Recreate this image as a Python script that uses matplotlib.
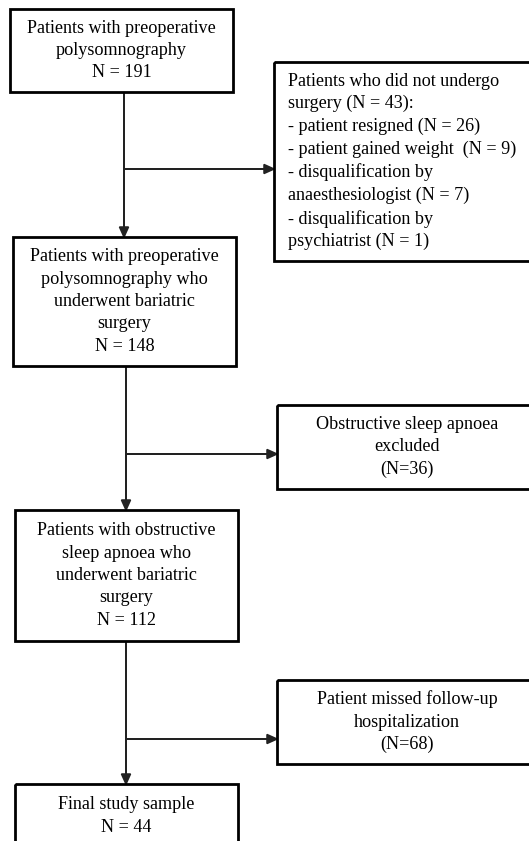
import matplotlib.pyplot as plt
from matplotlib.patches import Rectangle

# flow stages (main column) and exclusions (right column)
STAGE_LABELS = [
    "Patients with preoperative\npolysomnography",
    "Patients with preoperative\npolysomnography who\nunderwent bariatric\nsurgery",
    "Patients with obstructive\nsleep apnoea who\nunderwent bariatric\nsurgery",
    "Final study sample",
]
STAGE_N = [191, 148, 112, 44]

EXCLUDED_TEXT = [
    "Patients who did not undergo\nsurgery (N = 43):\n- patient resigned (N = 26)\n"
    "- patient gained weight  (N = 9)\n- disqualification by\n"
    "anaesthesiologist (N = 7)\n- disqualification by\npsychiatrist (N = 1)",
    "Obstructive sleep apnoea\nexcluded\n(N=36)",
    "Patient missed follow-up\nhospitalization\n(N=68)",
]
EXCLUDED_ALIGN = ["left", "center", "center"]

# layout in pixels (x0, y0, x1, y1), y measured from top
STAGE_BOX = [(10, 9, 233, 92), (13, 237, 236, 366), (15, 510, 238, 641), (15, 784, 238, 848)]
EXCL_BOX = [(274, 62, 545, 261), (277, 405, 537, 489), (277, 680, 537, 764)]
BRANCH_Y = [169, 454, 739]
TRUNK_X = [124, 126, 126]

W, H = 529, 841
FONT = ["Liberation Serif", "DejaVu Serif"]
FS = 13.1
LS = 1.41

fig = plt.figure(figsize=(W / 100, H / 100), dpi=100)
ax = fig.add_axes([0, 0, 1, 1])
ax.set_xlim(0, W)
ax.set_ylim(H, 0)
ax.axis("off")


def box(b):
    x0, y0, x1, y1 = b
    ax.add_patch(Rectangle((x0, y0), x1 - x0, y1 - y0, fill=False,
                           edgecolor="black", linewidth=2.0, zorder=3))


for lab, n, b in zip(STAGE_LABELS, STAGE_N, STAGE_BOX):
    box(b)
    x0, y0, x1, y1 = b
    ax.text((x0 + x1) / 2, (y0 + y1) / 2, f"{lab}\nN = {n}", ha="center", va="center",
            multialignment="center", fontsize=FS, family=FONT, linespacing=LS)

for txt, al, b in zip(EXCLUDED_TEXT, EXCLUDED_ALIGN, EXCL_BOX):
    box(b)
    x0, y0, x1, y1 = b
    if al == "left":
        ax.text(x0 + 14, (y0 + y1) / 2, txt, ha="left", va="center",
                fontsize=FS, family=FONT, linespacing=LS)
    else:
        ax.text((x0 + x1) / 2, (y0 + y1) / 2, txt, ha="center", va="center",
                multialignment="center", fontsize=FS, family=FONT, linespacing=LS)

arrow_kw = dict(width=0, head_width=9, head_length=10, length_includes_head=True,
                color="#222222", linewidth=1.1, zorder=2)
for i in range(3):
    tx = TRUNK_X[i]
    top = STAGE_BOX[i][3]
    bottom = STAGE_BOX[i + 1][1]
    ax.arrow(tx, top, 0, bottom - top, **arrow_kw)
    ax.arrow(tx, BRANCH_Y[i], EXCL_BOX[i][0] - tx, 0, **arrow_kw)

fig.savefig("out.png", dpi=100, facecolor="white")
